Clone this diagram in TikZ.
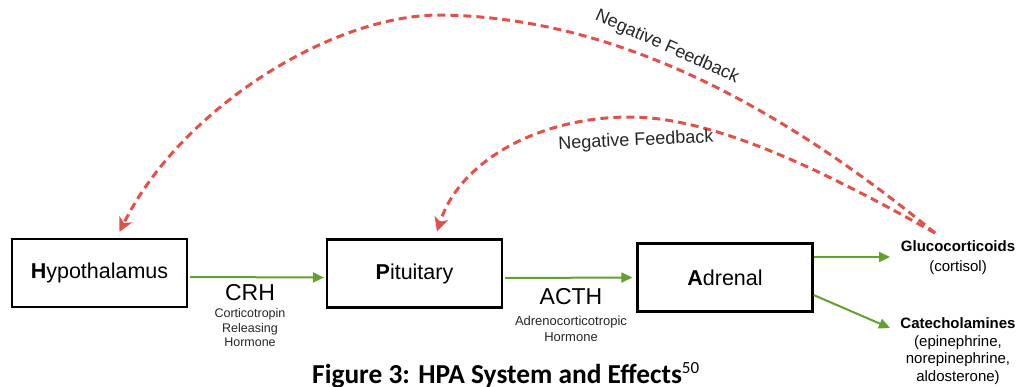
\documentclass[tikz,border=0pt]{standalone}
\usepackage{fontspec}
\setmainfont{Liberation Sans}
\newfontfamily\capfont{Carlito}
\usetikzlibrary{arrows.meta}
\definecolor{fbred}{RGB}{228,80,72}
\definecolor{fwgreen}{RGB}{98,160,48}
\begin{document}
\begin{tikzpicture}[x=1pt,y=1pt,
  organ/.style={draw=black, line width=2.2pt, minimum width=175pt, minimum height=68pt, inner sep=0pt, font=\fontsize{21.5}{24}\selectfont},
  flow/.style={draw=fwgreen, line width=2pt, -{Triangle[length=11pt,width=10pt]}},
  feedback/.style={draw=fbred, line width=3pt, dash pattern=on 8pt off 5pt, -{Stealth[length=14pt,width=14pt,inset=4pt]}},
  hormone/.style={font=\fontsize{23}{26}\selectfont, inner sep=0pt},
  hormonelong/.style={font=\fontsize{12.5}{14.5}\selectfont, align=center, inner sep=0pt, text=black!85},
  product/.style={align=center, inner sep=0pt},
  fblabel/.style={font=\fontsize{18}{21}\selectfont, inner sep=0pt, text=black!85}
]
\useasboundingbox (0,0) rectangle (1031,-386);

% organs
\node[organ] (hyp) at (99.5,-273) {\textbf{H}ypothalamus};
\node[organ] (pit) at (414.5,-273.5) {\textbf{P}ituitary};
\node[organ] (adr) at (725,-277.5) {\textbf{A}drenal};

% products
\node[product, font=\fontsize{15}{20}\selectfont] (glu) at (958,-258) {\textbf{Glucocorticoids}\\(cortisol)};
\node[product, font=\fontsize{15}{17.5}\selectfont] (cat) at (958,-351) {\textbf{Catecholamines}\\(epinephrine,\\norepinephrine,\\aldosterone)};

% hormone labels
\node[hormone] (crh) at (250,-293) {CRH};
\node[hormonelong] (crhl) at (250,-328) {Corticotropin\\Releasing\\Hormone};
\node[hormone] (acth) at (571,-297) {ACTH};
\node[hormonelong, font=\fontsize{13}{16}\selectfont] (acthl) at (571,-328.5) {Adrenocorticotropic\\Hormone};

% forward arrows
\draw[flow, shorten <=2pt, shorten >=2pt] ([yshift=-4pt]hyp.east) -- ([yshift=-4pt]pit.west);
\draw[flow, shorten <=2pt, shorten >=4pt] ([yshift=-4.5pt]pit.east) -- (adr.west);
\coordinate (gluin) at (890,-257);
\coordinate (catin) at (890,-328);
\draw[flow] (adr.east |- gluin) -- (gluin);
\draw[flow] ([yshift=-17.5pt]adr.east) -- (catin);

% feedback curves
\coordinate (fb) at (935,-233);
\coordinate (hyptop) at ([xshift=20pt,yshift=6pt]hyp.north);
\coordinate (pittop) at ([xshift=22.5pt,yshift=7pt]pit.north);
\draw[feedback] (fb) .. controls (775,-102) and (612,-17) .. (440,-15)
  .. controls (330,-15) and (180,-110) .. (hyptop);
\draw[feedback] (fb) .. controls (840,-180) and (720,-117) .. (630,-117)
  .. controls (540,-117) and (460,-160) .. (pittop);

\node[fblabel, rotate=-24] (fbl1) at (667,-47) {Negative Feedback};
\node[fblabel, rotate=2.5] (fbl2) at (636,-141) {Negative Feedback};

% caption
\node[anchor=base west, inner sep=0pt] (cap) at (312,-383)
  {\capfont\fontsize{27.4}{30}\selectfont\bfseries Figure 3: HPA System and Effects\raisebox{10pt}{\mdseries\fontsize{17}{18}\selectfont 50}};
\end{tikzpicture}
\end{document}
